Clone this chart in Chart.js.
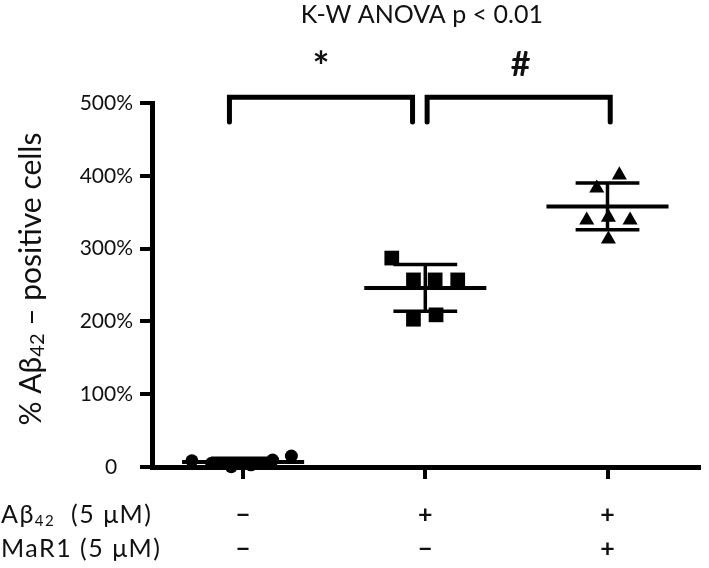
<!DOCTYPE html>
<html><head><meta charset="utf-8">
<script src="https://cdn.jsdelivr.net/npm/chart.js@4/dist/chart.umd.min.js"></script>
<style>html,body{margin:0;padding:0;background:#fff;}#wrap{width:709px;height:568px;}</style>
</head><body><div id="wrap"><canvas id="c" width="709" height="568"></canvas></div>
<script>
// ---- data ----
const groups = [1, 2, 3];
const ctrlValues = [8.6, 5, 0.5, 3, 9.6, 15];
const ctrlJitter = [-0.281, -0.173, -0.065, 0.043, 0.162, 0.265];
const abValues = [287, 257, 257, 257, 203, 209];
const abJitter = [-0.184, -0.065, 0.054, 0.178, -0.065, 0.059];
const marValues = [401, 383, 339, 343, 339, 313];
const marJitter = [0.065, -0.059, -0.114, 0.005, 0.124, 0.005];
const groupMeans = [7, 246, 358];
const groupSD = [5, 32, 32];
const abRow = ['−', '+', '+'];
const marRow = ['−', '−', '+'];
const yTicks = [0, 100, 200, 300, 400, 500];
const yTickLabels = ['0\u2003', '100%', '200%', '300%', '400%', '500%'];
const comparisons = [{from: 0.925, to: 1.93, label: '*'}, {from: 2.01, to: 3.015, label: '#'}];
const testLabel = 'K-W ANOVA p < 0.01';

const FONT = 'Lato';
const TXT = '#111';

function pts(vals, jit, g) { return vals.map((v, i) => ({x: g + jit[i], y: v})); }

function richText(ctx, parts, x, y, align) {
  let total = 0;
  parts.forEach(p => { ctx.font = p[1] + 'px ' + FONT; total += ctx.measureText(p[0]).width; });
  let cx = align === 'center' ? x - total / 2 : x;
  parts.forEach(p => {
    ctx.font = p[1] + 'px ' + FONT;
    ctx.fillText(p[0], cx, y + (p[2] || 0));
    cx += ctx.measureText(p[0]).width;
  });
}

const overlay = {
  id: 'overlay',
  afterDatasetsDraw(chart) {
    const {ctx, scales: {x, y}} = chart;
    ctx.save();
    ctx.strokeStyle = '#000';
    const line = (a, b, c, d) => { ctx.beginPath(); ctx.moveTo(a, b); ctx.lineTo(c, d); ctx.stroke(); };
    groups.forEach((g, i) => {
      const cx = x.getPixelForValue(g);
      const m = y.getPixelForValue(groupMeans[i]);
      const hi = y.getPixelForValue(groupMeans[i] + groupSD[i]);
      const lo = y.getPixelForValue(groupMeans[i] - groupSD[i]);
      const mw = x.getPixelForValue(g + 0.335) - cx;
      const cw = x.getPixelForValue(g + 0.175) - cx;
      ctx.lineWidth = 4; line(cx - mw, m, cx + mw, m);
      ctx.lineWidth = 3.5;
      line(cx, hi, cx, lo);
      line(cx - cw, hi, cx + cw, hi);
      line(cx - cw, lo, cx + cw, lo);
    });
    ctx.restore();
  },
  afterDraw(chart) {
    const {ctx, scales: {x, y}} = chart;
    ctx.save();
    ctx.strokeStyle = '#000';
    ctx.fillStyle = TXT;
    ctx.lineWidth = 5;
    ctx.lineCap = 'round';
    const top = y.getPixelForValue(508);
    const leg = y.getPixelForValue(474);
    comparisons.forEach(c => {
      const a = x.getPixelForValue(c.from), b = x.getPixelForValue(c.to);
      ctx.beginPath(); ctx.moveTo(a, leg); ctx.lineTo(a, top); ctx.lineTo(b, top); ctx.lineTo(b, leg); ctx.stroke();
      ctx.textAlign = 'center'; ctx.textBaseline = 'middle';
      if (c.label === '*') { ctx.font = 'bold 40px ' + FONT; ctx.fillText(c.label, (a + b) / 2, top - 29); }
      else { ctx.font = 'bold 34px ' + FONT; ctx.fillText(c.label, (a + b) / 2 + 2, top - 32); }
    });
    ctx.textAlign = 'center'; ctx.textBaseline = 'middle';
    ctx.font = '25px ' + FONT;
    ctx.fillText(testLabel, (x.getPixelForValue(comparisons[0].from) + x.getPixelForValue(comparisons[1].to)) / 2 + 2, 15);
    // y axis title
    ctx.save();
    ctx.translate(31, 279);
    ctx.rotate(-Math.PI / 2);
    ctx.textAlign = 'left'; ctx.textBaseline = 'middle';
    richText(ctx, [['% Aβ', 30, 0], ['42', 20, 7], [' – positive cells', 30, 0]], 0, 0, 'center');
    ctx.restore();
    // row labels
    ctx.textAlign = 'left'; ctx.textBaseline = 'middle';
    ctx.letterSpacing = '1.5px';
    richText(ctx, [['Aβ', 25, 0], ['42', 15, 6], ['  (5 μM)', 25, 0]], 1, 515, 'left');
    richText(ctx, [['MaR1 (5 μM)', 25, 0]], 1, 549, 'left');
    ctx.letterSpacing = '0px';
    ctx.restore();
  }
};

new Chart(document.getElementById('c'), {
  type: 'scatter',
  data: {
    datasets: [
      {data: pts(ctrlValues, ctrlJitter, groups[0]), pointStyle: 'circle', pointRadius: 6.5, backgroundColor: '#000', borderColor: '#000', borderWidth: 0, clip: false},
      {data: pts(abValues, abJitter, groups[1]), pointStyle: 'rect', pointRadius: 10.4, backgroundColor: '#000', borderColor: '#000', borderWidth: 0, clip: false},
      {data: pts(marValues, marJitter, groups[2]), pointStyle: 'triangle', pointRadius: 8.7, backgroundColor: '#000', borderColor: '#000', borderWidth: 0, clip: false}
    ]
  },
  options: {
    responsive: false,
    devicePixelRatio: 1,
    animation: false,
    layout: {padding: {top: 103, left: 0, right: 0, bottom: 0}},
    plugins: {legend: {display: false}, tooltip: {enabled: false}},
    scales: {
      x: {
        type: 'linear', min: 0.5, max: 3.5,
        afterBuildTicks: s => { s.ticks = groups.map(v => ({value: v})); },
        afterFit: s => { s.height = 101; },
        border: {display: true, color: '#000', width: 5},
        grid: {drawOnChartArea: false, drawTicks: true, tickLength: 12, color: '#000', lineWidth: 4},
        ticks: {
          callback: v => { const i = groups.indexOf(v); return [abRow[i], marRow[i]]; },
          color: TXT, font: {family: FONT, size: 25, weight: 'bold', lineHeight: '34px'}, padding: 19, maxRotation: 0, autoSkip: false
        }
      },
      y: {
        type: 'linear', min: 0, max: 500,
        afterBuildTicks: s => { s.ticks = yTicks.map(v => ({value: v})); },
        afterFit: s => { s.width = 152; },
        border: {display: true, color: '#000', width: 5},
        grid: {drawOnChartArea: false, drawTicks: true, tickLength: 12, color: '#000', lineWidth: 4},
        ticks: {
          callback: v => yTickLabels[yTicks.indexOf(v)],
          color: TXT, font: {family: FONT, size: 21}, padding: 7
        }
      }
    }
  },
  plugins: [overlay]
});
</script></body></html>
